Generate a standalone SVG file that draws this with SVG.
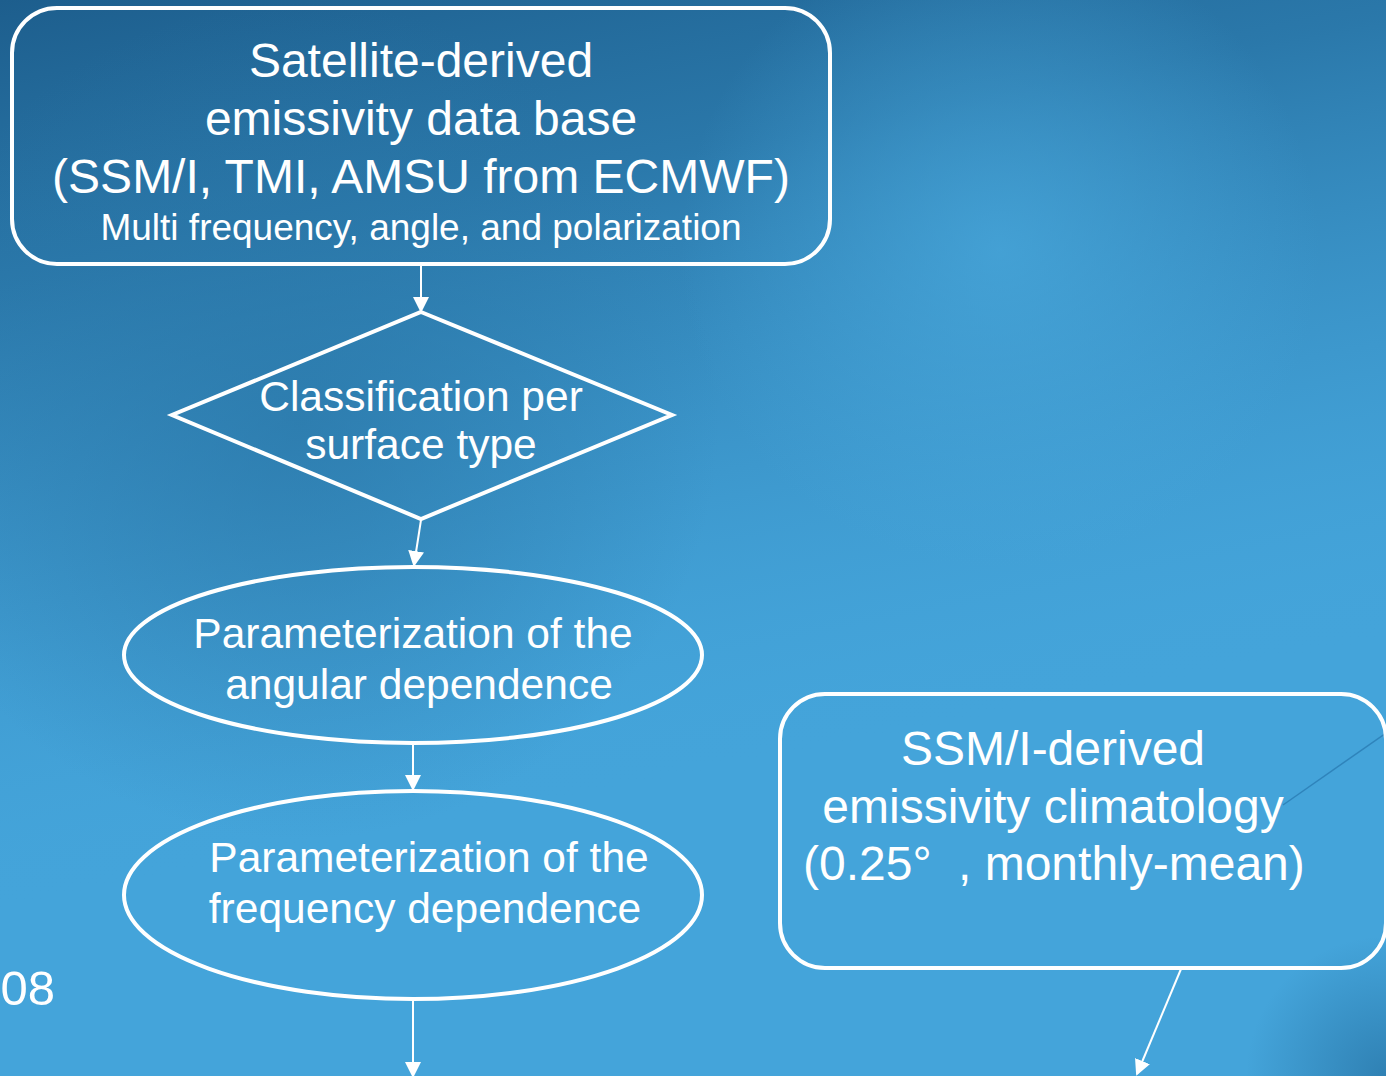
<svg xmlns="http://www.w3.org/2000/svg" width="1386" height="1076" viewBox="0 0 1386 1076">
<defs>
<linearGradient id="bgTop" x1="0" y1="0" x2="0.25" y2="1">
<stop offset="0" stop-color="#1d5e8d" stop-opacity="1"/>
<stop offset="0.25" stop-color="#246d9e" stop-opacity="0.8"/>
<stop offset="0.55" stop-color="#2f80b3" stop-opacity="0.3"/>
<stop offset="0.8" stop-color="#44a4da" stop-opacity="0"/>
</linearGradient>
<radialGradient id="leftDark" cx="300" cy="420" r="420" gradientUnits="userSpaceOnUse">
<stop offset="0" stop-color="#2a77a8" stop-opacity="0.7"/>
<stop offset="1" stop-color="#2a77a8" stop-opacity="0"/>
</radialGradient>
<radialGradient id="streak" cx="1000" cy="250" r="320" gradientUnits="userSpaceOnUse">
<stop offset="0" stop-color="#4aaade" stop-opacity="0.7"/>
<stop offset="1" stop-color="#4aaade" stop-opacity="0"/>
</radialGradient>
<radialGradient id="brDark" cx="1386" cy="1076" r="140" gradientUnits="userSpaceOnUse">
<stop offset="0" stop-color="#2a78aa" stop-opacity="0.8"/>
<stop offset="1" stop-color="#2a78aa" stop-opacity="0"/>
</radialGradient>
<marker id="arrow" markerWidth="8" markerHeight="8" refX="7" refY="4" orient="auto" markerUnits="strokeWidth">
<path d="M0,0 L8,4 L0,8 Z" fill="#ffffff"/>
</marker>
<style>
.shape{fill:none;stroke:#ffffff;stroke-width:4}
.conn{stroke:#ffffff;stroke-width:2;fill:none;marker-end:url(#arrow)}
.big{font-family:"Liberation Sans",Arial,sans-serif;font-size:48px;fill:#ffffff;text-anchor:middle}
.mid{font-family:"Liberation Sans",Arial,sans-serif;font-size:42.5px;fill:#ffffff;text-anchor:middle}
.small{font-family:"Liberation Sans",Arial,sans-serif;font-size:37px;fill:#ffffff;text-anchor:middle}
</style>
</defs>
<rect x="0" y="0" width="1386" height="1076" fill="#44a4da"/>
<rect x="0" y="0" width="1386" height="1076" fill="url(#bgTop)"/>
<rect x="0" y="0" width="1386" height="1076" fill="url(#leftDark)"/>
<rect x="0" y="0" width="1386" height="1076" fill="url(#streak)"/>
<rect x="0" y="0" width="1386" height="1076" fill="url(#brDark)"/>
<line x1="1283" y1="805" x2="1386" y2="733" stroke="#2f84bb" stroke-width="1.5"/>
<text x="55" y="1005" font-family="Liberation Sans, Arial, sans-serif" font-size="49" fill="#ffffff" text-anchor="end">08</text>

<g id="connectors">
<line class="conn" x1="421" y1="266" x2="421" y2="311"/>
<line class="conn" x1="421" y1="520" x2="414" y2="565"/>
<line class="conn" x1="413" y1="744" x2="413" y2="789"/>
<line class="conn" x1="413" y1="1000" x2="413" y2="1076"/>
<line class="conn" x1="1181" y1="969" x2="1137" y2="1074"/>
</g>

<g id="node-satellite">
<rect class="shape" x="12" y="8" width="818" height="256" rx="45" ry="45"/>
<text class="big" x="421" y="77">Satellite-derived</text>
<text class="big" x="421" y="135">emissivity data base</text>
<text class="big" x="421" y="193">(SSM/I, TMI, AMSU from ECMWF)</text>
<text class="small" x="421" y="240">Multi frequency, angle, and polarization</text>
</g>

<g id="node-classification">
<polygon class="shape" points="421,312 672,415 421,519 172,415"/>
<text class="mid" x="421" y="411">Classification per</text>
<text class="mid" x="421" y="459">surface type</text>
</g>

<g id="node-angular">
<ellipse class="shape" cx="413" cy="655" rx="289" ry="88"/>
<text class="mid" x="413" y="648">Parameterization of the</text>
<text class="mid" x="419" y="699">angular dependence</text>
</g>

<g id="node-frequency">
<ellipse class="shape" cx="413" cy="895" rx="289" ry="104"/>
<text class="mid" x="429" y="872">Parameterization of the</text>
<text class="mid" x="425" y="923">frequency dependence</text>
</g>

<g id="node-ssmi">
<rect class="shape" x="780" y="694" width="606" height="274" rx="45" ry="45" stroke-width="5"/>
<text class="big" x="1053" y="765">SSM/I-derived</text>
<text class="big" x="1053" y="823">emissivity climatology</text>
<text class="big" x="803" y="880" text-anchor="start" style="text-anchor:start">(0.25°<tspan x="958">, monthly-mean)</tspan></text>
</g>
</svg>
